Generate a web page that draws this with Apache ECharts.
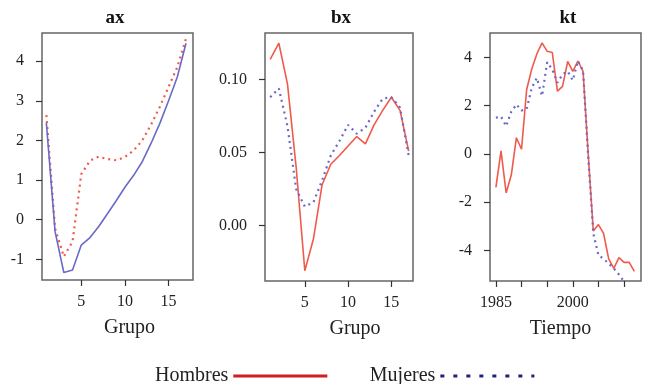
<!DOCTYPE html>
<html>
<head>
<meta charset="utf-8">
<script src="https://cdn.jsdelivr.net/npm/echarts@6/dist/echarts.min.js"></script>
<style>
  html, body { margin: 0; padding: 0; background: #fff; }
  #chart { width: 650px; height: 384px; }
</style>
</head>
<body>
<div id="chart"></div>
<script>
// grupos de edad (1..17)
const grupos = [1, 2, 3, 4, 5, 6, 7, 8, 9, 10, 11, 12, 13, 14, 15, 16, 17];
// ax
const axHombres = [2.64, -0.22, -0.93, -0.55, 1.15, 1.49, 1.59, 1.53, 1.50, 1.58, 1.75, 2.00, 2.40, 2.85, 3.35, 3.85, 4.57];
const axMujeres = [2.44, -0.30, -1.33, -1.27, -0.64, -0.45, -0.17, 0.15, 0.48, 0.82, 1.12, 1.47, 1.93, 2.43, 3.00, 3.60, 4.45];
// bx
const bxHombres = [0.114, 0.125, 0.097, 0.040, -0.031, -0.009, 0.028, 0.042, 0.048, 0.0545, 0.061, 0.056, 0.069, 0.079, 0.088, 0.079, 0.051];
const bxMujeres = [0.088, 0.094, 0.068, 0.025, 0.013, 0.016, 0.031, 0.048, 0.058, 0.069, 0.063, 0.067, 0.078, 0.087, 0.088, 0.081, 0.048];
// kt
const anios = [1985, 1986, 1987, 1988, 1989, 1990, 1991, 1992, 1993, 1994, 1995, 1996, 1997, 1998,
               1999, 2000, 2001, 2002, 2003, 2004, 2005, 2006, 2007, 2008, 2009, 2010, 2011, 2012];
const ktHombres = [-1.39, 0.12, -1.62, -0.88, 0.67, 0.19, 2.67, 3.52, 4.15, 4.60, 4.25, 4.20, 2.60, 2.80,
                   3.83, 3.42, 3.85, 3.42, 0.00, -3.20, -2.93, -3.30, -4.35, -4.75, -4.30, -4.50, -4.50, -4.87];
const ktMujeres = [1.50, 1.55, 1.15, 1.75, 2.05, 1.80, 1.85, 2.75, 3.15, 2.40, 3.80, 3.50, 2.95, 3.30,
                   3.42, 3.05, 3.85, 3.45, -0.10, -3.30, -4.20, -4.35, -4.55, -4.75, -5.00, -5.30, -5.60, -5.90];

// marcas de los ejes
const ticksGrupo = [5, 10, 15];
const ticksAx = [-1, 0, 1, 2, 3, 4];
const ticksBx = [0, 0.05, 0.10];
const ticksKt = [-4, -2, 0, 2, 4];
const ticksAnio = [1985, 1990, 1995, 2000, 2005, 2010];
const etiquetasAnio = [1985, 2000];

const fuente = 'Liberation Serif';
const rojo = '#ef5a4c';
const azul = '#6a6ac6';

function pares(xs, ys) {
  return xs.map((x, i) => [x, ys[i]]);
}

function ejeX(idx, min, max, ticks, labels, nombre, pad) {
  return {
    type: 'value', gridIndex: idx, min: min, max: max,
    splitLine: { show: false },
    axisLine: { show: false, onZero: false },
    axisTick: { length: 6, customValues: ticks, lineStyle: { color: '#333', width: 1.2 } },
    axisLabel: { customValues: labels, margin: 14, fontFamily: fuente, fontSize: 16, color: '#222',
                 formatter: v => String(v) },
    name: nombre, nameLocation: 'middle', nameGap: 38,
    nameTextStyle: { fontFamily: fuente, fontSize: 20, color: '#222', padding: pad }
  };
}

function ejeY(idx, min, max, ticks, fmt) {
  return {
    type: 'value', gridIndex: idx, min: min, max: max,
    splitLine: { show: false },
    axisLine: { show: false, onZero: false },
    axisTick: { length: 6, customValues: ticks, lineStyle: { color: '#333', width: 1.2 } },
    axisLabel: { customValues: ticks, margin: 18, fontFamily: fuente, fontSize: 16, color: '#222', formatter: fmt }
  };
}

function serie(nombre, idx, datos, color, tipo) {
  return {
    name: nombre, type: 'line', xAxisIndex: idx, yAxisIndex: idx,
    data: datos, symbol: 'none', clip: true,
    lineStyle: { color: color, width: tipo === 'solid' ? 1.6 : 2.2, type: tipo },
    itemStyle: { color: color }
  };
}

const caja = { show: true, borderColor: '#666', borderWidth: 1.5, backgroundColor: 'transparent' };
const tituloEstilo = { fontFamily: fuente, fontSize: 19, fontWeight: 'bold', color: '#111' };

const chart = echarts.init(document.getElementById('chart'));
chart.setOption({
  animation: false,
  backgroundColor: '#fff',
  title: [
    { text: 'ax', left: 110, top: 4, textAlign: 'center', textStyle: tituloEstilo },
    { text: 'bx', left: 336, top: 4, textAlign: 'center', textStyle: tituloEstilo },
    { text: 'kt', left: 563, top: 4, textAlign: 'center', textStyle: tituloEstilo }
  ],
  grid: [
    Object.assign({ left: 42, top: 33, width: 151, height: 247 }, caja),
    Object.assign({ left: 265, top: 33, width: 148, height: 248 }, caja),
    Object.assign({ left: 490, top: 33, width: 151, height: 248 }, caja)
  ],
  xAxis: [
    ejeX(0, 0.5, 17.8, ticksGrupo, ticksGrupo, 'Grupo', [0, 0, 0, 24]),
    ejeX(1, 0.4, 17.5, ticksGrupo, ticksGrupo, 'Grupo', [0, 0, 0, 32]),
    ejeX(2, 1983.85, 2013.3, ticksAnio, etiquetasAnio, 'Tiempo', [0, 10, 0, 0])
  ],
  yAxis: [
    ejeY(0, -1.52, 4.71, ticksAx, v => String(v)),
    ejeY(1, -0.038, 0.132, ticksBx, v => v.toFixed(2)),
    ejeY(2, -5.27, 5.01, ticksKt, v => String(v))
  ],
  legend: {
    left: 150, top: 361,
    align: 'right',
    itemWidth: 94, itemHeight: 14, itemGap: 41,
    textStyle: { fontFamily: fuente, fontSize: 20, color: '#222' },
    data: [
      { name: 'Hombres', itemStyle: { color: '#d01e1e', opacity: 0 },
        lineStyle: { color: '#d01e1e', width: 3, type: 'solid', opacity: 1 } },
      { name: 'Mujeres', itemStyle: { color: '#22227a', opacity: 0 },
        lineStyle: { color: '#22227a', width: 3, type: [4, 9], opacity: 1 } }
    ]
  },
  series: [
    serie('Hombres', 0, pares(grupos, axHombres), rojo, [2, 4]),
    serie('Mujeres', 0, pares(grupos, axMujeres), azul, 'solid'),
    serie('Hombres', 1, pares(grupos, bxHombres), rojo, 'solid'),
    serie('Mujeres', 1, pares(grupos, bxMujeres), azul, [2, 4]),
    serie('Hombres', 2, pares(anios, ktHombres), rojo, 'solid'),
    serie('Mujeres', 2, pares(anios, ktMujeres), azul, [2, 4])
  ]
});
</script>
</body>
</html>
